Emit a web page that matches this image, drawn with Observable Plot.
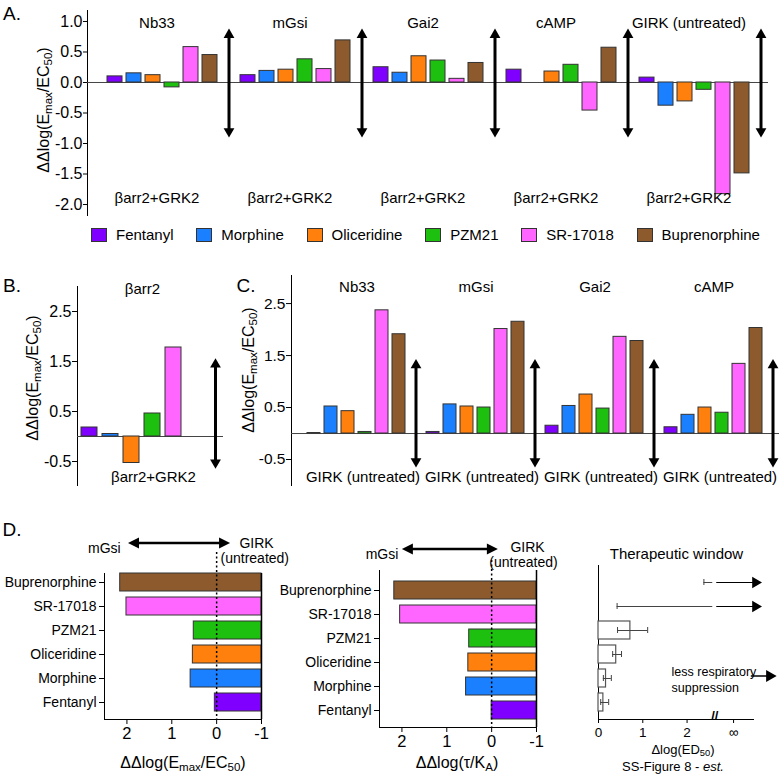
<!DOCTYPE html>
<html><head><meta charset="utf-8">
<script src="https://cdn.jsdelivr.net/npm/d3@7"></script>
<script src="https://cdn.jsdelivr.net/npm/@observablehq/plot@0.6"></script>
<style>
body{margin:0;background:#fff;font-family:"Liberation Sans",Arial,sans-serif;}
#root{position:relative;width:783px;height:777px;overflow:hidden;background:#fff;}
.lbl{position:absolute;white-space:nowrap;color:#000;line-height:1;}
sub{font-size:0.72em;vertical-align:-0.3em;line-height:0;}
.legend{position:absolute;display:flex;justify-content:space-between;align-items:center;font-size:15px;}
.legend .it{display:flex;align-items:center;}
.legend .sw{width:16px;height:14px;box-sizing:border-box;border:1px solid #333;margin-right:9px;}
</style></head>
<body><div id="root"></div>
<script>
// ---------- data ----------
const drugs = ["Fentanyl","Morphine","Oliceridine","PZM21","SR-17018","Buprenorphine"];
const drugColors = ["#8000ff","#1a80ff","#ff800d","#1ec010","#ff66ff","#8c5a2d"];

// Panel A
const groupsA = ["Nb33","mGsi","Gai2","cAMP","GIRK (untreated)"];
const nb33A = [0.10,0.15,0.12,-0.08,0.58,0.45];
const mgsiA = [0.12,0.19,0.21,0.38,0.22,0.69];
const gai2A = [0.25,0.16,0.43,0.36,0.06,0.32];
const campA = [0.21,null,0.18,0.29,-0.46,0.57];
const girkA = [0.08,-0.38,-0.31,-0.12,-1.83,-1.49];
const ticksA = [1.0,0.5,0,-0.5,-1.0,-1.5,-2.0];
const arrowRangeA = [0.88,-0.90];
const bottomLabelA = "βarr2+GRK2";

// Panel B
const titleB = "βarr2";
const barr2B = [0.18,0.05,-0.53,0.46,1.78,null];
const ticksBC = [2.5,1.5,0.5,-0.5];
const arrowRangeB = [1.56,-0.64];

// Panel C
const groupsC = ["Nb33","mGsi","Gai2","cAMP"];
const nb33C = [0.01,0.52,0.43,0.03,2.37,1.91];
const mgsiC = [0.03,0.56,0.52,0.50,2.01,2.15];
const gai2C = [0.15,0.53,0.75,0.48,1.86,1.78];
const campC = [0.12,0.36,0.50,0.40,1.34,2.03];
const arrowRangeC = [1.43,-0.65];
const bottomLabelC = "GIRK (untreated)";

// Panel D
const drugOrderD = ["Buprenorphine","SR-17018","PZM21","Oliceridine","Morphine","Fentanyl"];
const emaxD = [2.15,2.01,0.51,0.53,0.58,0.04];
const tauD  = [2.17,2.04,0.50,0.52,0.57,0.00];
const edD   = [null,null,0.72,0.40,0.17,0.11];
const edLoD = [2.38,0.42,0.43,0.32,0.11,0.05];
const edHiD = [Infinity,Infinity,1.11,0.52,0.29,0.23];
const ticksD = [2,1,0,-1];
const ticksTW = [0,1,2,3.05];
const tickLabelsTW = ["0","1","2","∞"];
const axisBreakTW = [2.58,2.67];
const infinityTipTW = 3.68;

// ---------- helpers ----------
const root = document.getElementById("root");
const fontFamily = '"Liberation Sans", Arial, sans-serif';
const baseStyle = {fontFamily, fontSize:"15px", overflow:"visible", background:"transparent", color:"#000"};
const colorScale = {domain: drugs, range: drugColors};
function place(el, left, top){ el.style.position="absolute"; el.style.left=left+"px"; el.style.top=top+"px"; root.appendChild(el); }
function label(html, x, y, size=15, rotate=false){
  const d=document.createElement("div"); d.className="lbl"; d.innerHTML=html;
  d.style.left=x+"px"; d.style.top=y+"px"; d.style.fontSize=size+"px";
  d.style.transform = rotate ? "translate(-50%,-50%) rotate(-90deg)" : "translate(-50%,-50%)";
  root.appendChild(d);
}
function arrowMarks(data, key, range, r=4){
  return [
    Plot.ruleX(data, {x:key, y1:()=>range[0], y2:()=>range[1], strokeWidth:3, insetTop:6, insetBottom:6}),
    Plot.dot(data, {x:key, y:()=>range[0], symbol:"triangle", r, fill:"#000", stroke:null, dy:6}),
    Plot.dot(data, {x:key, y:()=>range[1], symbol:"triangle", r, fill:"#000", stroke:null, rotate:180, dy:-6})
  ];
}
function dirArrow(x1, x2, dy){
  return (index, scales, values, dims) => {
    const y = dims.marginTop + dy;
    const a = scales.x(x1), b = scales.x(x2);
    const dir = Math.sign(b - a), h = 11, w = 5.5;
    const g = d3.create("svg:g");
    g.append("line").attr("x1", a+dir*h*0.8).attr("x2", b-dir*h*0.8).attr("y1", y).attr("y2", y).attr("stroke","#000").attr("stroke-width",2.5);
    g.append("path").attr("d", `M${b},${y}L${b-dir*h},${y-w}L${b-dir*h},${y+w}Z`).attr("fill","#000");
    g.append("path").attr("d", `M${a},${y}L${a+dir*h},${y-w}L${a+dir*h},${y+w}Z`).attr("fill","#000");
    return g.node();
  };
}

// ---------- Panel A ----------
const seriesA = [nb33A, mgsiA, gai2A, campA, girkA];
const slotsA = groupsA.flatMap(g => [...drugs.map(d => g+"|"+d), g+"|arrow"]);
const barsA = groupsA.flatMap((g,gi) => drugs.map((d,di) => ({key:g+"|"+d, drug:d, value:seriesA[gi][di]}))).filter(r => r.value != null);
const arrowsA = groupsA.map(g => ({key:g+"|arrow"}));
const labelsA = groupsA.map(g => ({key:g+"|Oliceridine", group:g}));
const plotA = Plot.plot({
  width:783, height:222, marginLeft:87, marginRight:15, marginTop:10, marginBottom:7,
  style: baseStyle,
  x:{type:"band", domain:slotsA, paddingInner:0.23, paddingOuter:0.1285, align:1, axis:null},
  y:{domain:[-2.18,1.18]},
  color: colorScale,
  marks:[
    Plot.axisY({ticks:ticksA, tickFormat:d=>d.toFixed(1), tickSize:4, tickPadding:1, fontSize:16, label:null}),
    Plot.frame({anchor:"left"}),
    Plot.ruleY([0], {stroke:"#444"}),
    Plot.barY(barsA, {x:"key", y:"value", fill:"drug", stroke:"#333", strokeWidth:1}),
    ...arrowMarks(arrowsA, "key", arrowRangeA),
    Plot.text(labelsA, {x:"key", text:"group", frameAnchor:"top", dy:7, dx:4, fontSize:15}),
    Plot.text(labelsA, {x:"key", text:()=>bottomLabelA, frameAnchor:"bottom", dy:-13, dx:4, fontSize:15})
  ]
});
place(plotA, 0, 0);

// legend
const leg = document.createElement("div"); leg.className="legend";
leg.style.left="91px"; leg.style.top="227px"; leg.style.width="669px"; leg.style.height="15px";
drugs.forEach((d,i)=>{ const it=document.createElement("div"); it.className="it";
  it.innerHTML=`<span class="sw" style="background:${drugColors[i]}"></span><span>${d}</span>`; leg.appendChild(it); });
root.appendChild(leg);

// ---------- Panel B ----------
const slotsB = [...drugs, "arrow"];
const barsB = drugs.map((d,i)=>({drug:d, value:barr2B[i]})).filter(r=>r.value!=null);
const plotB = Plot.plot({
  width:235, height:214, marginLeft:77, marginRight:12, marginTop:10, marginBottom:5,
  style: baseStyle,
  x:{type:"band", domain:slotsB, paddingInner:0.24, paddingOuter:0.095, align:1, axis:null},
  y:{domain:[-0.98,3.0]},
  color: colorScale,
  marks:[
    Plot.axisY({ticks:ticksBC, tickFormat:d=>d.toFixed(1), tickSize:5, tickPadding:1, fontSize:16, label:null}),
    Plot.frame({anchor:"left"}),
    Plot.ruleY([0], {stroke:"#444"}),
    Plot.barY(barsB, {x:"drug", y:"value", fill:"drug", stroke:"#333", strokeWidth:1}),
    ...arrowMarks([{key:"arrow"}], "key", arrowRangeB),
    Plot.text([titleB], {x:()=>"Oliceridine", text:d=>d, frameAnchor:"top", dy:-3, dx:11, fontSize:15}),
    Plot.text([bottomLabelA], {x:()=>"Oliceridine", text:d=>d, frameAnchor:"bottom", dy:-4, dx:22, fontSize:15})
  ]
});
place(plotB, 0, 276);

// ---------- Panel C ----------
const seriesC = [nb33C, mgsiC, gai2C, campC];
const slotsC = groupsC.flatMap(g => [...drugs.map(d => g+"|"+d), g+"|arrow"]);
const barsC = groupsC.flatMap((g,gi) => drugs.map((d,di) => ({key:g+"|"+d, drug:d, value:seriesC[gi][di]}))).filter(r => r.value != null);
const arrowsC = groupsC.map(g => ({key:g+"|arrow"}));
const labelsC = groupsC.map(g => ({key:g+"|Oliceridine", group:g}));
const plotC = Plot.plot({
  width:548, height:225, marginLeft:56, marginRight:4, marginTop:10, marginBottom:5,
  style: baseStyle,
  x:{type:"band", domain:slotsC, paddingInner:0.245, paddingOuter:0.142, align:1, axis:null},
  y:{domain:[-1.0,3.04]},
  color: colorScale,
  marks:[
    Plot.axisY({ticks:ticksBC, tickFormat:d=>d.toFixed(1), tickSize:5, tickPadding:1, fontSize:15.5, label:null}),
    Plot.frame({anchor:"left"}),
    Plot.ruleY([0], {stroke:"#444"}),
    Plot.barY(barsC, {x:"key", y:"value", fill:"drug", stroke:"#333", strokeWidth:1}),
    ...arrowMarks(arrowsC, "key", arrowRangeC),
    Plot.text(labelsC, {x:"key", text:"group", frameAnchor:"top", dy:6, dx:9, fontSize:15}),
    Plot.text(labelsC, {x:"key", text:()=>bottomLabelC, frameAnchor:"bottom", dy:-4, dx:15, fontSize:15})
  ]
});
place(plotC, 235, 265);

// ---------- Panel D ----------
const yBandD = {type:"band", domain:drugOrderD, paddingInner:0.25, paddingOuter:0.0925, align:0};
const rowsD1 = drugOrderD.map((d,i)=>({drug:d, value:emaxD[i]}));
const plotD1 = Plot.plot({
  width:270, height:252, marginLeft:104, marginRight:9, marginTop:48, marginBottom:58,
  style: baseStyle,
  x:{domain:[2.5,-1]},
  y: yBandD,
  color: colorScale,
  marks:[
    Plot.axisX({ticks:ticksD, tickFormat:d=>String(d), tickSize:5, tickPadding:3, fontSize:16.5, label:null}),
    Plot.axisY({tickSize:5, tickPadding:3, fontSize:14, label:null}),
    Plot.frame({anchor:"left"}), Plot.frame({anchor:"bottom"}),
    Plot.barX(rowsD1, {y:"drug", x1:"value", x2:-1, fill:"drug", stroke:"#333", strokeWidth:1}),
    Plot.ruleX([0], {strokeDasharray:"2,2.5", strokeWidth:1.5, insetTop:-21}),
    Plot.ruleX([-1], {strokeWidth:1.5}),
    dirArrow(1.965, -0.31, -30),
    Plot.text(["mGsi"], {x:()=>2.14, text:d=>d, frameAnchor:"top", dy:-30, textAnchor:"end", fontSize:14}),
    Plot.text(["GIRK"], {x:()=>-0.89, text:d=>d, frameAnchor:"top", dy:-35, fontSize:14}),
    Plot.text(["(untreated)"], {x:()=>-0.85, text:d=>d, frameAnchor:"top", dy:-20, fontSize:14})
  ]
});
place(plotD1, 0, 525);

const rowsD2 = drugOrderD.map((d,i)=>({drug:d, value:tauD[i]}));
const plotD2 = Plot.plot({
  width:280, height:252, marginLeft:109, marginRight:14, marginTop:45, marginBottom:50,
  style: baseStyle,
  x:{domain:[2.5,-1]},
  y:{type:"band", domain:drugOrderD, paddingInner:0.25, paddingOuter:0.3, align:0.6},
  color: colorScale,
  marks:[
    Plot.axisX({ticks:ticksD, tickFormat:d=>String(d), tickSize:5, tickPadding:3, fontSize:16.5, label:null}),
    Plot.axisY({tickSize:5, tickPadding:3, fontSize:14, label:null}),
    Plot.frame({anchor:"left"}), Plot.frame({anchor:"bottom"}),
    Plot.barX(rowsD2, {y:"drug", x1:"value", x2:-1, fill:"drug", stroke:"#333", strokeWidth:1}),
    Plot.ruleX([0], {strokeDasharray:"2,2.5", strokeWidth:1.5, insetTop:-10}),
    Plot.ruleX([-1], {strokeWidth:1.5}),
    dirArrow(1.99, -0.15, -21),
    Plot.text(["mGsi"], {x:()=>2.08, text:d=>d, frameAnchor:"top", dy:-21, textAnchor:"end", fontSize:14}),
    Plot.text(["GIRK"], {x:()=>-0.80, text:d=>d, frameAnchor:"top", dy:-28, fontSize:14}),
    Plot.text(["(untreated)"], {x:()=>-0.71, text:d=>d, frameAnchor:"top", dy:-13, fontSize:14})
  ]
});
place(plotD2, 270, 525);

const rowsD3 = drugOrderD.map((d,i)=>({drug:d, value:edD[i], lo:edLoD[i], hi:edHiD[i]}));
const barsD3 = rowsD3.filter(r=>r.value!=null);
const finiteD3 = rowsD3.filter(r=>isFinite(r.hi));
const infD3 = rowsD3.filter(r=>!isFinite(r.hi));
const plotD3 = Plot.plot({
  width:233, height:252, marginLeft:48, marginRight:30, marginTop:48, marginBottom:58,
  style: baseStyle,
  x:{domain:[0,3.5]},
  y: {...yBandD, axis:null},
  marks:[
    Plot.axisX({ticks:ticksTW, tickFormat:(d,i)=>tickLabelsTW[i], tickSize:4, tickPadding:4, fontSize:13.5, label:null}),
    Plot.frame({anchor:"bottom"}),
    Plot.ruleX([0], {insetTop:-8}),
    Plot.text(["//"], {x:()=>(axisBreakTW[0]+axisBreakTW[1])/2, text:d=>d, frameAnchor:"bottom", fontSize:13, fontWeight:"bold"}),
    Plot.barX(barsD3, {y:"drug", x1:0, x2:"value", fill:"#fff", stroke:"#555", strokeWidth:1.2}),
    Plot.ruleY(finiteD3, {y:"drug", x1:"lo", x2:"hi", stroke:"#444"}),
    Plot.tickX(finiteD3, {y:"drug", x:"lo", insetTop:6, insetBottom:6, stroke:"#444"}),
    Plot.tickX(finiteD3, {y:"drug", x:"hi", insetTop:6, insetBottom:6, stroke:"#444"}),
    Plot.ruleY(infD3, {y:"drug", x1:"lo", x2:()=>axisBreakTW[0], stroke:"#444"}),
    Plot.tickX(infD3, {y:"drug", x:"lo", insetTop:6, insetBottom:6, stroke:"#444"}),
    Plot.ruleY(infD3, {y:"drug", x1:()=>axisBreakTW[1], x2:()=>infinityTipTW, stroke:"#000", strokeWidth:1.2}),
    Plot.dot(infD3, {y:"drug", x:()=>infinityTipTW, symbol:"triangle", r:4.2, fill:"#000", stroke:null, rotate:90, dx:-6}),
    Plot.text(["Therapeutic window"], {x:()=>1.76, text:d=>d, frameAnchor:"top", dy:-25, fontSize:15}),
    Plot.text(["less respiratory\nsuppression"], {x:()=>1.65, y:()=>"Morphine", text:d=>d, textAnchor:"start", lineHeight:1.3, fontSize:12.5}),
    Plot.ruleY(["Morphine"], {y:d=>d, x1:()=>3.45, x2:()=>4.0, dy:-2.5, strokeWidth:1.5}),
    Plot.dot(["Morphine"], {y:d=>d, x:()=>4.0, symbol:"triangle", r:4.5, fill:"#000", stroke:null, rotate:90, dx:-6, dy:-2.5})
  ]
});
place(plotD3, 550, 525);

// ---------- text labels ----------
label("A.", 12, 13, 19);
label("B.", 12, 285, 19);
label("C.", 246, 285, 19);
label("D.", 12, 529, 19);
label("ΔΔlog(E<sub>max</sub>/EC<sub>50</sub>)", 44, 110, 16, true);
label("ΔΔlog(E<sub>max</sub>/EC<sub>50</sub>)", 33, 378, 16, true);
label("ΔΔlog(E<sub>max</sub>/EC<sub>50</sub>)", 249, 370, 16, true);
label("ΔΔlog(E<sub>max</sub>/EC<sub>50</sub>)", 183, 763, 16);
label("ΔΔlog(τ/K<sub>A</sub>)", 457, 763, 16);
label("Δlog(ED<sub>50</sub>)", 683, 749, 13);
label("SS-Figure 8 - <i>est.</i>", 673, 766, 13);
</script>
</body></html>
